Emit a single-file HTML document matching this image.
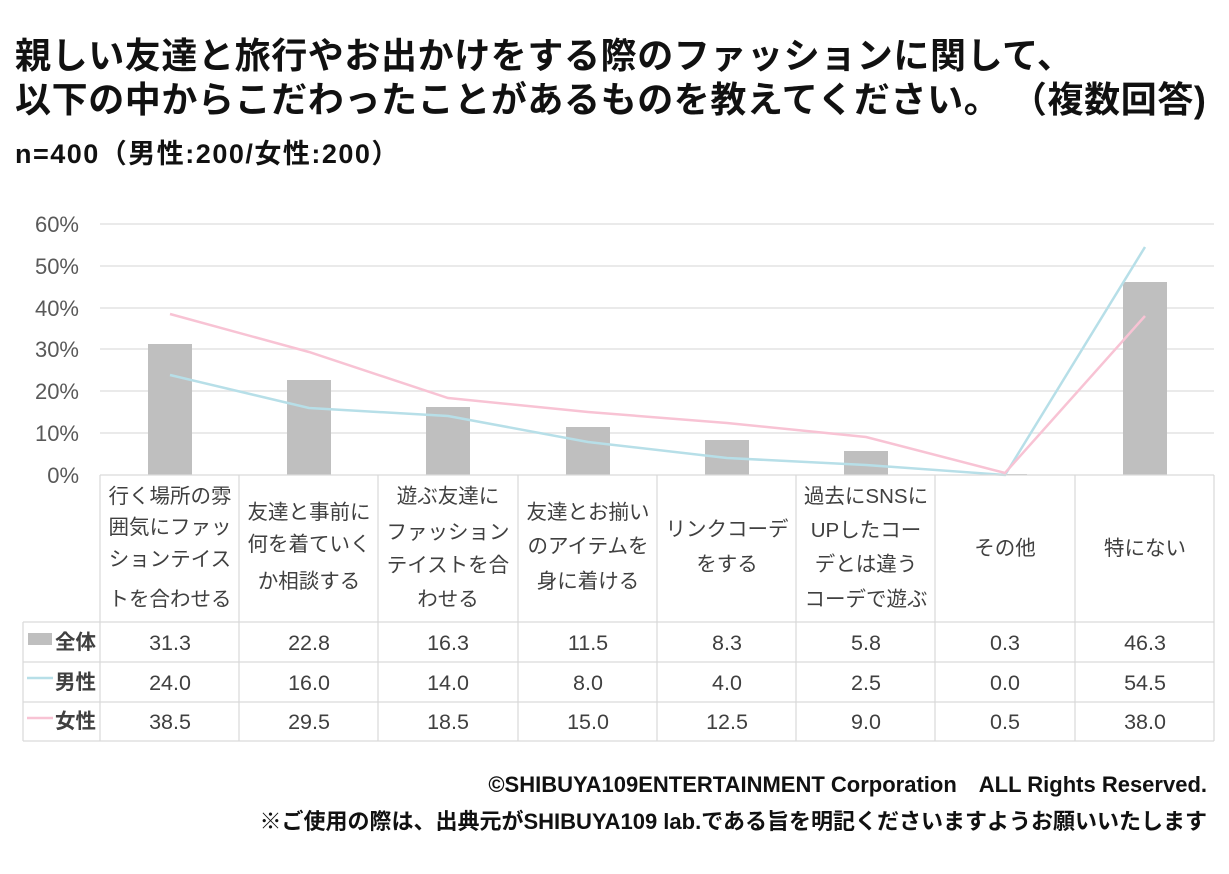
<!DOCTYPE html>
<html><head><meta charset="utf-8"><style>
body{margin:0;background:#fff;width:1229px;height:874px;overflow:hidden;font-family:"Liberation Sans","Noto Sans CJK JP",sans-serif;}
.t{position:absolute;left:15px;font-weight:bold;color:#111;white-space:nowrap}
svg text{font-family:"Liberation Sans","Noto Sans CJK JP",sans-serif}
</style></head><body>
<div class="t" style="top:34px;font-size:36px;line-height:44px;letter-spacing:0.6px">親しい友達と旅行やお出かけをする際のファッションに関して、<br>以下の中からこだわったことがあるものを教えてください。 （複数回答)</div>
<div class="t" style="top:132px;font-size:27px;letter-spacing:1.5px">n=400（男性:200/女性:200）</div>
<svg width="1229" height="874" style="position:absolute;left:0;top:0">
<g stroke="#e3e3e3" stroke-width="1.5">
<line x1="100" x2="1214" y1="224" y2="224"/><line x1="100" x2="1214" y1="266" y2="266"/>
<line x1="100" x2="1214" y1="308" y2="308"/><line x1="100" x2="1214" y1="349" y2="349"/>
<line x1="100" x2="1214" y1="391" y2="391"/><line x1="100" x2="1214" y1="433" y2="433"/>
</g>
<g fill="#595959" font-size="22" text-anchor="end">
<text x="79" y="232">60%</text><text x="79" y="274">50%</text><text x="79" y="316">40%</text>
<text x="79" y="357">30%</text><text x="79" y="399">20%</text><text x="79" y="441">10%</text><text x="79" y="483">0%</text>
</g>
<g fill="#bfbfbf">
<rect x="148" y="344" width="44" height="131"/><rect x="287" y="380" width="44" height="95"/>
<rect x="426" y="407" width="44" height="68"/><rect x="566" y="427" width="44" height="48"/>
<rect x="705" y="440" width="44" height="35"/><rect x="844" y="451" width="44" height="24"/>
<rect x="983" y="474" width="44" height="1"/><rect x="1123" y="282" width="44" height="193"/>
</g>
<polyline fill="none" stroke="#b7dfe8" stroke-width="2.5" points="170,375 309,408 448,416 588,442 727,458 866,465 1005,475 1145,247"/>
<polyline fill="none" stroke="#f8c3d4" stroke-width="2.5" points="170,314 309,352 448,398 588,412 727,423 866,437 1005,473 1145,316"/>
<g stroke="#d9d9d9" stroke-width="1.2" fill="none">
<line x1="100" x2="1214" y1="475" y2="475"/>
<line x1="23" x2="1214" y1="622" y2="622"/><line x1="23" x2="1214" y1="662" y2="662"/>
<line x1="23" x2="1214" y1="702" y2="702"/><line x1="23" x2="1214" y1="741" y2="741"/>
<line x1="23" x2="23" y1="622" y2="741"/>
<line x1="100" x2="100" y1="475" y2="741"/><line x1="239" x2="239" y1="475" y2="741"/>
<line x1="378" x2="378" y1="475" y2="741"/><line x1="518" x2="518" y1="475" y2="741"/>
<line x1="657" x2="657" y1="475" y2="741"/><line x1="796" x2="796" y1="475" y2="741"/>
<line x1="935" x2="935" y1="475" y2="741"/><line x1="1075" x2="1075" y1="475" y2="741"/>
<line x1="1214" x2="1214" y1="475" y2="741"/>
</g>
<g fill="#404040" font-size="20.5" text-anchor="middle">
<text x="170" y="503">行く場所の雰</text><text x="170" y="534">囲気にファッ</text><text x="170" y="566">ションテイス</text><text x="170" y="606">トを合わせる</text>
<text x="309" y="519">友達と事前に</text><text x="309" y="551">何を着ていく</text><text x="309" y="588">か相談する</text>
<text x="448" y="503">遊ぶ友達に</text><text x="448" y="539">ファッション</text><text x="448" y="572">テイストを合</text><text x="448" y="606">わせる</text>
<text x="588" y="519">友達とお揃い</text><text x="588" y="553">のアイテムを</text><text x="588" y="588">身に着ける</text>
<text x="727" y="536">リンクコーデ</text><text x="727" y="571">をする</text>
<text x="866" y="503">過去にSNSに</text><text x="866" y="537">UPしたコー</text><text x="866" y="571">デとは違う</text><text x="866" y="606">コーデで遊ぶ</text>
<text x="1005" y="555">その他</text><text x="1145" y="555">特にない</text>
</g>
<g fill="#404040" font-size="21.5" text-anchor="middle">
<text x="170" y="650">31.3</text><text x="309" y="650">22.8</text><text x="448" y="650">16.3</text><text x="588" y="650">11.5</text><text x="727" y="650">8.3</text><text x="866" y="650">5.8</text><text x="1005" y="650">0.3</text><text x="1145" y="650">46.3</text>
<text x="170" y="690">24.0</text><text x="309" y="690">16.0</text><text x="448" y="690">14.0</text><text x="588" y="690">8.0</text><text x="727" y="690">4.0</text><text x="866" y="690">2.5</text><text x="1005" y="690">0.0</text><text x="1145" y="690">54.5</text>
<text x="170" y="729">38.5</text><text x="309" y="729">29.5</text><text x="448" y="729">18.5</text><text x="588" y="729">15.0</text><text x="727" y="729">12.5</text><text x="866" y="729">9.0</text><text x="1005" y="729">0.5</text><text x="1145" y="729">38.0</text>
</g>
<rect x="28" y="633" width="24" height="12" fill="#bfbfbf"/>
<line x1="27" x2="53" y1="678" y2="678" stroke="#b7dfe8" stroke-width="2.5"/>
<line x1="27" x2="53" y1="718" y2="718" stroke="#f8c3d4" stroke-width="2.5"/>
<g fill="#404040" font-size="20.5" font-weight="bold"><text x="55" y="649">全体</text><text x="55" y="689">男性</text><text x="55" y="728">女性</text></g>
<g fill="#111" font-size="22" font-weight="bold" text-anchor="end">
<text x="1207" y="792">©SHIBUYA109ENTERTAINMENT Corporation　ALL Rights Reserved.</text>
<text x="1207" y="829">※ご使用の際は、出典元がSHIBUYA109 lab.である旨を明記くださいますようお願いいたします</text>
</g>
</svg>
</body></html>
